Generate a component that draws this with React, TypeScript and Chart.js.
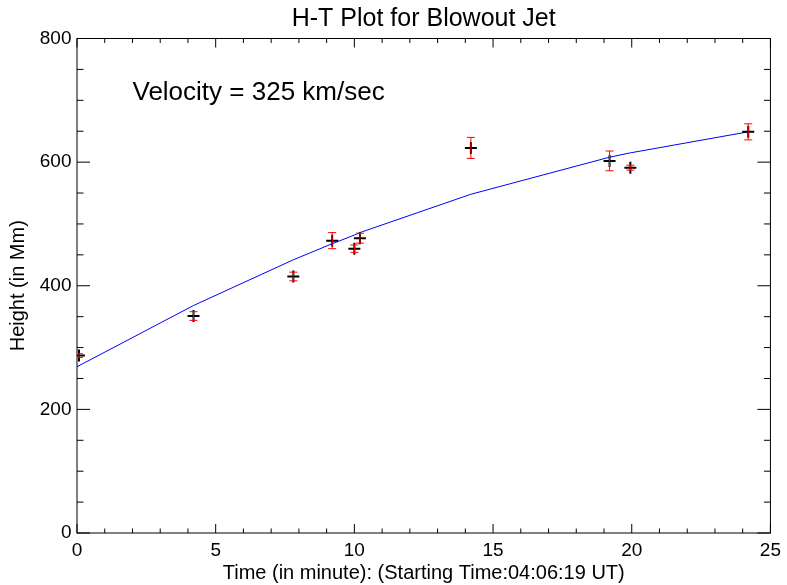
import { useEffect, useRef } from "react";
import { Chart, registerables } from "chart.js";

Chart.register(...registerables);

// ---- data ----
const times = [0.07, 4.2, 7.8, 9.2, 10.0, 10.2, 14.2, 19.2, 19.95, 24.2];
const heights = [287, 351, 415, 473, 460, 477, 623, 602, 591, 649];
const heightErrors = [3, 7, 7, 13, 6, 8, 17, 16, 4, 13];
const fitHeights = [269, 368, 442, 468, 482, 486, 548, 608, 615, 649];
const fitTimes = [0.0, 4.2, 7.8, 9.2, 10.0, 10.2, 14.2, 19.2, 19.95, 24.2];

const xRange = [0, 25];
const yRange = [0, 800];
const xMajorStep = 5;
const xMinorStep = 1;
const yMajorStep = 200;
const yMinorStep = 50;

const titleText = "H-T Plot for Blowout Jet";
const xTitle = "Time (in minute): (Starting Time:04:06:19 UT)";
const yTitle = "Height (in Mm)";
const annotationText = "Velocity = 325 km/sec";
const annotationAt = { x: 2.0, y: 700 };

const FONT = "'Liberation Sans', Arial, Helvetica, sans-serif";

const idlFramePlugin = {
  id: "idlFrame",
  afterDraw(chart: any) {
    const { ctx, chartArea: a } = chart;
    const x = chart.scales.x;
    const y = chart.scales.y;
    ctx.save();
    ctx.strokeStyle = "#000";
    ctx.lineWidth = 1;
    ctx.strokeRect(a.left, a.top, a.right - a.left, a.bottom - a.top);
    ctx.beginPath();
    for (let v = xRange[0]; v <= xRange[1] + 1e-9; v += xMinorStep) {
      const px = x.getPixelForValue(v);
      const len = Math.abs(v % xMajorStep) < 1e-9 ? 9 : 4.5;
      ctx.moveTo(px, a.bottom);
      ctx.lineTo(px, a.bottom - len);
      ctx.moveTo(px, a.top);
      ctx.lineTo(px, a.top + len);
    }
    for (let v = yRange[0]; v <= yRange[1] + 1e-9; v += yMinorStep) {
      const py = y.getPixelForValue(v);
      const len = Math.abs(v % yMajorStep) < 1e-9 ? 13 : 6.5;
      ctx.moveTo(a.left, py);
      ctx.lineTo(a.left + len, py);
      ctx.moveTo(a.right, py);
      ctx.lineTo(a.right - len, py);
    }
    ctx.stroke();

    // annotation
    ctx.fillStyle = "#000";
    ctx.font = `26px ${FONT}`;
    ctx.textAlign = "left";
    ctx.textBaseline = "alphabetic";
    ctx.fillText(annotationText, x.getPixelForValue(annotationAt.x), y.getPixelForValue(annotationAt.y));
    ctx.restore();
  },
};

const errorBarPlugin = {
  id: "errorBars",
  afterDatasetsDraw(chart: any) {
    const { ctx, chartArea: a } = chart;
    const x = chart.scales.x;
    const y = chart.scales.y;
    ctx.save();
    ctx.beginPath();
    ctx.rect(a.left + 1, a.top, a.right - a.left - 1, a.bottom - a.top);
    ctx.clip();
    ctx.strokeStyle = "#ff0000";
    ctx.lineWidth = 1;
    ctx.beginPath();
    times.forEach((t, i) => {
      const px = x.getPixelForValue(t);
      const pTop = y.getPixelForValue(heights[i] + heightErrors[i]);
      const pBot = y.getPixelForValue(heights[i] - heightErrors[i]);
      ctx.moveTo(px, pTop);
      ctx.lineTo(px, pBot);
      ctx.moveTo(px - 4, pTop);
      ctx.lineTo(px + 4, pTop);
      ctx.moveTo(px - 4, pBot);
      ctx.lineTo(px + 4, pBot);
    });
    ctx.stroke();
    ctx.restore();
  },
};

export default function App() {
  const canvasRef = useRef<HTMLCanvasElement | null>(null);

  useEffect(() => {
    const canvas = canvasRef.current;
    if (!canvas) return;
    const chart = new Chart(canvas, {
      type: "scatter",
      data: {
        datasets: [
          {
            label: "Height",
            data: times.map((t, i) => ({ x: t, y: heights[i] })),
            showLine: false,
            pointStyle: "cross",
            pointRadius: 6,
            pointBorderWidth: 2,
            borderColor: "#000",
            backgroundColor: "#000",
            clip: 0,
          } as any,
          {
            label: "Fit",
            data: fitTimes.map((t, i) => ({ x: t, y: fitHeights[i] })),
            showLine: true,
            borderColor: "#0000ff",
            borderWidth: 1,
            pointRadius: 0,
            tension: 0,
            clip: 0,
          } as any,
        ],
      },
      options: {
        animation: false,
        responsive: true,
        maintainAspectRatio: false,
        layout: { padding: { left: 0, right: 14, top: 0, bottom: 0 } },
        plugins: {
          legend: { display: false },
          tooltip: { enabled: false },
          title: {
            display: true,
            text: titleText,
            fullSize: false,
            color: "#000",
            font: { family: FONT, size: 25, weight: "normal" },
            padding: { top: 4, bottom: 4.5 },
          },
        },
        scales: {
          x: {
            type: "linear",
            min: xRange[0],
            max: xRange[1],
            afterFit: (s: any) => {
              s.height = 52;
            },
            grid: { display: false, drawTicks: false, tickLength: 0 },
            border: { display: false },
            ticks: {
              stepSize: xMajorStep,
              color: "#000",
              font: { family: FONT, size: 19 },
              padding: 6,
              maxRotation: 0,
              autoSkip: false,
            },
            title: {
              display: true,
              text: xTitle,
              color: "#000",
              font: { family: FONT, size: 20 },
              padding: { top: 0, bottom: 0 },
            },
          },
          y: {
            type: "linear",
            min: yRange[0],
            max: yRange[1],
            afterFit: (s: any) => {
              s.width = 77;
            },
            grid: { display: false, drawTicks: false, tickLength: 0 },
            border: { display: false },
            ticks: {
              stepSize: yMajorStep,
              color: "#000",
              font: { family: FONT, size: 19 },
              padding: 5.5,
            },
            title: {
              display: true,
              text: yTitle,
              color: "#000",
              font: { family: FONT, size: 20 },
              padding: { top: 6, bottom: 0 },
            },
          },
        },
      },
      plugins: [errorBarPlugin, idlFramePlugin],
    });
    return () => chart.destroy();
  }, []);

  return (
    <div style={{ position: "absolute", left: 0, top: 0, width: 787, height: 585, background: "#fff" }}>
      <canvas ref={canvasRef} />
    </div>
  );
}
